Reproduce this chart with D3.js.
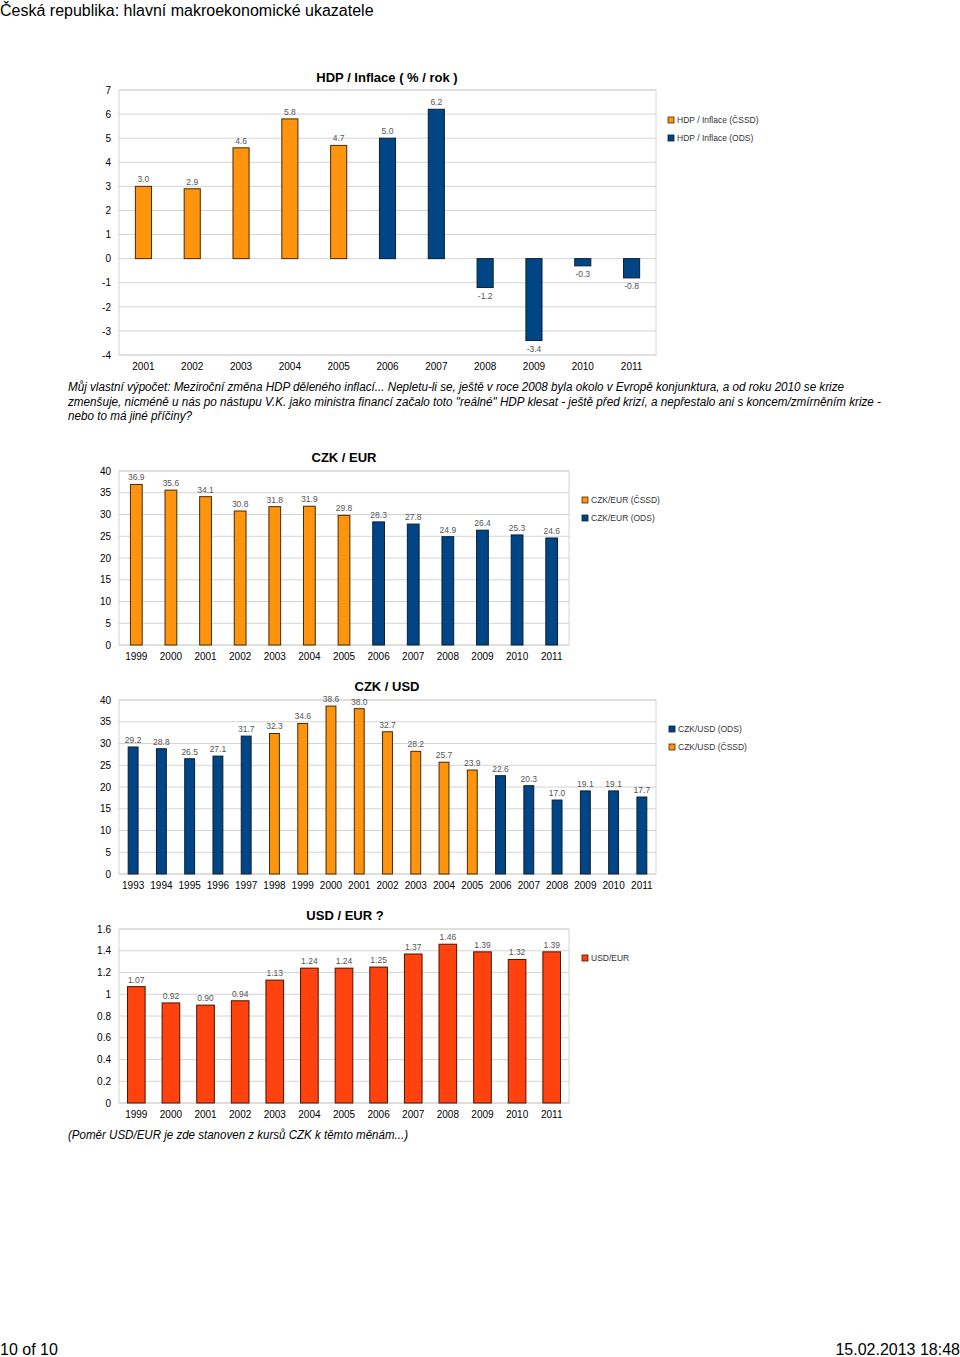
<!DOCTYPE html>
<html><head><meta charset="utf-8">
<script src="https://cdn.jsdelivr.net/npm/d3@7"></script>
<style>
body{margin:0;background:#fff;}
svg{display:block;font-family:"Liberation Sans",Arial,sans-serif;}
</style></head>
<body>
<svg id="c" width="960" height="1357"></svg>
<script>
// ---------- DATA ----------
const hdpYears = ["2001","2002","2003","2004","2005","2006","2007","2008","2009","2010","2011"];
const hdpCSSD  = [3.0, 2.9, 4.6, 5.8, 4.7, null, null, null, null, null, null];
const hdpODS   = [null, null, null, null, null, 5.0, 6.2, -1.2, -3.4, -0.3, -0.8];
const hdpTicks = [7,6,5,4,3,2,1,0,-1,-2,-3,-4];

const eurYears = ["1999","2000","2001","2002","2003","2004","2005","2006","2007","2008","2009","2010","2011"];
const eurCSSD  = [36.9, 35.6, 34.1, 30.8, 31.8, 31.9, 29.8, null, null, null, null, null, null];
const eurODS   = [null, null, null, null, null, null, null, 28.3, 27.8, 24.9, 26.4, 25.3, 24.6];
const eurTicks = [0,5,10,15,20,25,30,35,40];

const usdYears = ["1993","1994","1995","1996","1997","1998","1999","2000","2001","2002","2003","2004","2005","2006","2007","2008","2009","2010","2011"];
const usdODS   = [29.2, 28.8, 26.5, 27.1, 31.7, null, null, null, null, null, null, null, null, 22.6, 20.3, 17.0, 19.1, 19.1, 17.7];
const usdCSSD  = [null, null, null, null, null, 32.3, 34.6, 38.6, 38.0, 32.7, 28.2, 25.7, 23.9, null, null, null, null, null, null];
const usdTicks = [0,5,10,15,20,25,30,35,40];

const ueYears  = ["1999","2000","2001","2002","2003","2004","2005","2006","2007","2008","2009","2010","2011"];
const ueValues = [1.07, 0.92, 0.90, 0.94, 1.13, 1.24, 1.24, 1.25, 1.37, 1.46, 1.39, 1.32, 1.39];
const ueTicks  = [0,0.2,0.4,0.6,0.8,1,1.2,1.4,1.6];

const pageTitle = "Česká republika: hlavní makroekonomické ukazatele";
const note1 = ["Můj vlastní výpočet: Meziroční změna HDP děleného inflací... Nepletu-li se, ještě v roce 2008 byla okolo v Evropě konjunktura, a od roku 2010 se krize",
  "zmenšuje, nicméně u nás po nástupu V.K. jako ministra financí začalo toto \"reálné\" HDP klesat - ještě před krizí, a nepřestalo ani s koncem/zmírněním krize -",
  "nebo to má jiné příčiny?"];
const note2 = "(Poměr USD/EUR je zde stanoven z kursů CZK k těmto měnám...)";
const footerLeft = "10 of 10";
const footerRight = "15.02.2013 18:48";

// ---------- STYLE ----------
const ORANGE = "#ff950e", BLUE = "#004586", RED = "#ff420e";
const STROKE = {[ORANGE]:"#4a2800", [BLUE]:"#0b2030", [RED]:"#4a1200"};
const loc = d3.formatLocale({decimal:".", thousands:"", grouping:[3], currency:["",""], minus:"-"});

const svg = d3.select("#c");

svg.append("text").attr("x",0).attr("y",16).attr("font-size",16).attr("fill","#000").text(pageTitle);
svg.append("text").attr("x",0).attr("y",1355).attr("font-size",16).text(footerLeft);
svg.append("text").attr("x",960).attr("y",1355).attr("font-size",16).attr("text-anchor","end").text(footerRight);

function drawChart(cfg){
  const g = svg.append("g");
  const x = d3.scaleBand().domain(cfg.years).range([cfg.x0, cfg.x1]).padding(0);
  const y = d3.scaleLinear().domain(cfg.yDomain).range([cfg.y1, cfg.y0]);
  // grid
  g.append("g").selectAll("line").data(cfg.ticks).join("line")
    .attr("x1",cfg.x0).attr("x2",cfg.x1).attr("y1",d=>y(d)).attr("y2",d=>y(d))
    .attr("stroke","#d4d4d4").attr("stroke-width",1);
  g.append("rect").attr("x",cfg.x0).attr("y",cfg.y0).attr("width",cfg.x1-cfg.x0).attr("height",cfg.y1-cfg.y0)
    .attr("fill","none").attr("stroke","#d4d4d4");
  // axes
  const ya = g.append("g").attr("transform",`translate(${cfg.x0},0)`)
    .call(d3.axisLeft(y).tickValues(cfg.ticks).tickSize(0).tickPadding(8).tickFormat(cfg.tickFmt));
  ya.select(".domain").remove();
  ya.selectAll("text").attr("font-size",10).attr("fill","#000").attr("font-family","Liberation Sans, Arial, sans-serif");
  const xa = g.append("g").attr("transform",`translate(0,${cfg.y1})`)
    .call(d3.axisBottom(x).tickSize(0).tickPadding(8));
  xa.select(".domain").remove();
  xa.selectAll("text").attr("font-size",10).attr("fill","#000").attr("font-family","Liberation Sans, Arial, sans-serif");
  // bars
  const bw = x.bandwidth()*cfg.barFrac;
  cfg.series.forEach(s=>{
    const pts = cfg.years.map((yr,i)=>({yr, v:s.values[i]})).filter(d=>d.v!==null);
    g.append("g").selectAll("rect").data(pts).join("rect")
      .attr("x",d=>x(d.yr)+(x.bandwidth()-bw)/2).attr("width",bw)
      .attr("y",d=>y(Math.max(0,d.v))).attr("height",d=>Math.abs(y(d.v)-y(0)))
      .attr("fill",s.color).attr("stroke",STROKE[s.color]).attr("stroke-width",1);
    g.append("g").selectAll("text").data(pts).join("text")
      .attr("x",d=>x(d.yr)+x.bandwidth()/2)
      .attr("y",d=>d.v>=0 ? y(d.v)-4 : y(d.v)+11)
      .attr("text-anchor","middle").attr("font-size",8.5).attr("fill","#555")
      .text(d=>loc.format(cfg.labelFmt)(d.v));
  });
  // title
  g.append("text").attr("x",cfg.titleX).attr("y",cfg.titleY).attr("text-anchor","middle")
    .attr("font-size",13).attr("font-weight","bold").text(cfg.title);
  // legend
  cfg.legend.forEach((s,i)=>{
    const ly = cfg.legY + i*18;
    g.append("rect").attr("x",cfg.legX).attr("y",ly-3).attr("width",6).attr("height",6)
      .attr("fill",s.color).attr("stroke",STROKE[s.color]).attr("stroke-width",0.8);
    g.append("text").attr("x",cfg.legX+9).attr("y",ly+3).attr("font-size",8.5).attr("fill","#333").text(s.name);
  });
}

const intFmt = d=>loc.format("d")(d);
const decFmt = d=>String(+d.toFixed(1));

drawChart({title:"HDP / Inflace ( % / rok )", years:hdpYears, yDomain:[-4,7], ticks:hdpTicks, tickFmt:intFmt, labelFmt:".1f",
  x0:119, x1:656, y0:90, y1:355, barFrac:0.33, titleX:387, titleY:82, legX:668, legY:120,
  series:[{name:"HDP / Inflace (ČSSD)",color:ORANGE,values:hdpCSSD},{name:"HDP / Inflace (ODS)",color:BLUE,values:hdpODS}],
  legend:[{name:"HDP / Inflace (ČSSD)",color:ORANGE},{name:"HDP / Inflace (ODS)",color:BLUE}]});

drawChart({title:"CZK / EUR", years:eurYears, yDomain:[0,40], ticks:eurTicks, tickFmt:intFmt, labelFmt:".1f",
  x0:119, x1:569, y0:471, y1:645, barFrac:0.34, titleX:344, titleY:462, legX:582, legY:500,
  series:[{name:"CZK/EUR (ČSSD)",color:ORANGE,values:eurCSSD},{name:"CZK/EUR (ODS)",color:BLUE,values:eurODS}],
  legend:[{name:"CZK/EUR (ČSSD)",color:ORANGE},{name:"CZK/EUR (ODS)",color:BLUE}]});

drawChart({title:"CZK / USD", years:usdYears, yDomain:[0,40], ticks:usdTicks, tickFmt:intFmt, labelFmt:".1f",
  x0:119, x1:656, y0:700, y1:874, barFrac:0.35, titleX:387, titleY:691, legX:669, legY:729,
  series:[{name:"CZK/USD (ODS)",color:BLUE,values:usdODS},{name:"CZK/USD (ČSSD)",color:ORANGE,values:usdCSSD}],
  legend:[{name:"CZK/USD (ODS)",color:BLUE},{name:"CZK/USD (ČSSD)",color:ORANGE}]});

drawChart({title:"USD / EUR ?", years:ueYears, yDomain:[0,1.6], ticks:ueTicks, tickFmt:decFmt, labelFmt:".2f",
  x0:119, x1:569, y0:929, y1:1103, barFrac:0.51, titleX:345, titleY:920, legX:582, legY:958,
  series:[{name:"USD/EUR",color:RED,values:ueValues}],
  legend:[{name:"USD/EUR",color:RED}]});

// notes
const noteLens = [776, 813, 124];
note1.forEach((t,i)=>{
  svg.append("text").attr("x",68).attr("y",391+i*14.5).attr("font-size",12).attr("font-style","italic")
    .attr("textLength",noteLens[i]).attr("lengthAdjust","spacingAndGlyphs").text(t);
});
svg.append("text").attr("x",68).attr("y",1139).attr("font-size",12).attr("font-style","italic")
  .attr("textLength",340).attr("lengthAdjust","spacingAndGlyphs").text(note2);
</script>
</body></html>
